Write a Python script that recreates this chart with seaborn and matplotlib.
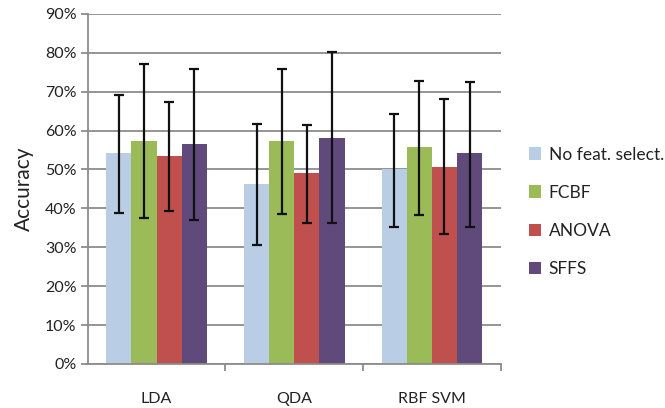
import numpy as np
import pandas as pd
import matplotlib.pyplot as plt
import seaborn as sns
from matplotlib.ticker import PercentFormatter, FixedLocator

# Data (accuracy in %)
classifiers = ['LDA', 'QDA', 'RBF SVM']
methods = ['No feat. select.', 'FCBF', 'ANOVA', 'SFFS']

mean_no_sel = [54.2, 46.3, 50.1]
mean_fcbf = [57.2, 57.2, 55.7]
mean_anova = [53.5, 49.1, 50.6]
mean_sffs = [56.5, 58.2, 54.2]

upper_no_sel = [69.2, 61.8, 64.2]
upper_fcbf = [77.1, 75.8, 72.8]
upper_anova = [67.3, 61.4, 68.0]
upper_sffs = [75.8, 80.2, 72.4]

lower_no_sel = [38.7, 30.6, 35.3]
lower_fcbf = [37.5, 38.6, 38.3]
lower_anova = [39.4, 36.3, 33.4]
lower_sffs = [37.0, 36.3, 35.3]

colors = ['#B9CDE5', '#9BBB59', '#C0504D', '#604A7B']

means = [mean_no_sel, mean_fcbf, mean_anova, mean_sffs]
uppers = [upper_no_sel, upper_fcbf, upper_anova, upper_sffs]
lowers = [lower_no_sel, lower_fcbf, lower_anova, lower_sffs]

rows = []
for m, vals, up, lo in zip(methods, means, uppers, lowers):
    for c, v, u, l in zip(classifiers, vals, up, lo):
        rows.append({'classifier': c, 'method': m, 'acc': v, 'up': u, 'lo': l})
df = pd.DataFrame(rows)

sns.set_style('white')
plt.rcParams['font.family'] = ['Lato', 'DejaVu Sans']

fig = plt.figure(figsize=(6.65, 4.08), dpi=100)
ax = fig.add_axes([0.132, 0.108, 0.621, 0.858])

group_w = 0.73
sns.barplot(data=df, x='classifier', y='acc', hue='method', order=classifiers,
            hue_order=methods, palette=colors, width=group_w, gap=0,
            errorbar=None, saturation=1, linewidth=0, ax=ax, zorder=2)

# error bars at each bar centre
for p in ax.patches:
    if p.get_height() <= 0:
        continue
    xc = p.get_x() + p.get_width() / 2
    ci = int(round(xc))
    hi = int((xc - ci + group_w / 2) // (group_w / 4))
    r = df[(df['classifier'] == classifiers[ci]) & (df['method'] == methods[hi])].iloc[0]
    ax.errorbar(xc, r['acc'], yerr=[[r['acc'] - r['lo']], [r['up'] - r['acc']]],
                fmt='none', ecolor='#111111', elinewidth=1.6, capsize=3.5,
                capthick=1.6, zorder=3)

ax.set_ylim(0, 90)
ax.set_xlim(-0.5, 2.5)
ax.set_yticks(np.arange(0, 91, 10))
ax.yaxis.set_major_formatter(PercentFormatter(decimals=0))
ax.yaxis.grid(True, color='#8C8C8C', linewidth=1.3, zorder=0)
ax.set_axisbelow(True)

for s in ['top', 'right']:
    ax.spines[s].set_visible(False)
for s in ['left', 'bottom']:
    ax.spines[s].set_color('#8C8C8C')
    ax.spines[s].set_linewidth(1.3)

ax.tick_params(axis='y', which='major', direction='out', length=5, width=1.3,
               color='#8C8C8C', labelsize=11.5, labelcolor='#222222', pad=3, left=True)
ax.tick_params(axis='x', which='major', length=0, pad=20, labelsize=11.5,
               labelcolor='#222222')
ax.xaxis.set_minor_locator(FixedLocator([0.5, 1.5, 2.5]))
ax.tick_params(axis='x', which='minor', direction='out', length=5, width=1.3,
               color='#8C8C8C', bottom=True)

ax.set_xlabel('')
ax.set_ylabel('Accuracy', fontsize=15, color='#222222', labelpad=8)

handles, labels = ax.get_legend_handles_labels()
ax.legend(handles, labels, loc='center left', bbox_to_anchor=(1.03, 0.435),
          frameon=False, fontsize=12.5, handlelength=0.7, handleheight=0.7,
          handletextpad=0.45, labelspacing=1.27, labelcolor='#222222')

fig.savefig('out.png', dpi=100)
